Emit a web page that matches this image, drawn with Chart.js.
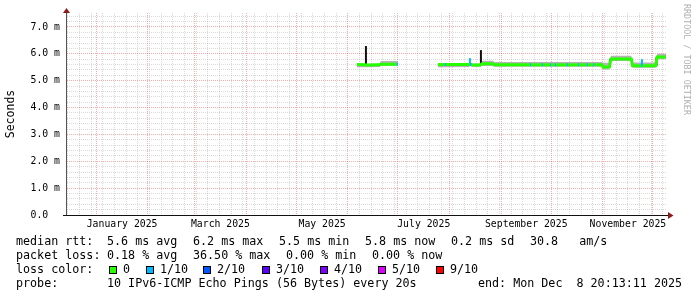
<!DOCTYPE html>
<html>
<head>
<meta charset="utf-8">
<script src="https://cdn.jsdelivr.net/npm/chart.js@4/dist/chart.umd.min.js"></script>
<style>
  html, body { margin: 0; padding: 0; background: #fff; }
  #wrap { position: relative; width: 697px; height: 297px; overflow: hidden; background: #fff; }
  #chart { position: absolute; left: 0; top: 0; }
  .t { position: absolute; font-family: 'DejaVu Sans Mono', monospace; font-size: 11.7px; line-height: 14px; white-space: pre; color: #000; }
  .sw { position: absolute; top: 266px; width: 6px; height: 6px; border: 1px solid #000; }
  #mark { position: absolute; left: 682px; top: 4px; writing-mode: vertical-rl; font-family: 'DejaVu Sans Mono', monospace;
          font-size: 8.4px; line-height: 10px; color: #b0b0b0; white-space: pre; }
</style>
</head>
<body>
<div id="wrap">
  <canvas id="chart" width="697" height="297"></canvas>
  <div id="mark">RRDTOOL / TOBI OETIKER</div>

  <div class="t" style="left:16px;top:234px">median rtt:</div>
  <div class="t" style="left:107px;top:234px">5.6 ms avg</div>
  <div class="t" style="left:193px;top:234px">6.2 ms max</div>
  <div class="t" style="left:279px;top:234px">5.5 ms min</div>
  <div class="t" style="left:365px;top:234px">5.8 ms now</div>
  <div class="t" style="left:451px;top:234px">0.2 ms sd</div>
  <div class="t" style="left:530px;top:234px">30.8   am/s</div>

  <div class="t" style="left:16px;top:248px">packet loss:</div>
  <div class="t" style="left:107px;top:248px">0.18 % avg</div>
  <div class="t" style="left:193px;top:248px">36.50 % max</div>
  <div class="t" style="left:286px;top:248px">0.00 % min</div>
  <div class="t" style="left:372px;top:248px">0.00 % now</div>

  <div class="t" style="left:16px;top:262px">loss color:</div>
  <div id="lossLegend"></div>

  <div class="t" style="left:16px;top:276px">probe:</div>
  <div class="t" style="left:107px;top:276px">10 IPv6-ICMP Echo Pings (56 Bytes) every 20s</div>
  <div class="t" style="left:478px;top:276px">end: Mon Dec  8 20:13:11 2025</div>
</div>
<script>
// time axis: days since 2025-01-01 00:00
const dayOf = (y, m, d) => (Date.UTC(y, m, d) - Date.UTC(2025, 0, 1)) / 86400000;
const endDay = dayOf(2025, 11, 8) + (20 + 13 / 60 + 11 / 3600) / 24;
const startDay = endDay - 360;

// median rtt (ms), smoke range (ms) and lost pings out of 10
const medianDays = [156.4, 161.4, 162.2, 170.0, 170.8, 180.2, 181.0, 193.0,
  205.0, 209.0, 209.8, 223.6, 224.4, 225.2, 230.4, 231.4, 238.0, 238.8,
  260.2, 261.0, 267.2, 268.0, 272.2, 273.0, 275.2, 276.0, 282.2, 283.0,
  289.2, 290.0, 294.2, 295.0, 298.2, 299.0, 303.4, 304.0, 307.8, 308.8,
  321.0, 321.8, 327.0, 327.8, 335.6, 336.6, 341.8];
const medianMs = [5.60, 5.59, 5.58, 5.59, 5.61, 5.61, 5.61, null,
  5.60, 5.60, 5.60, 5.60, 5.62, 5.58, 5.58, 5.63, 5.63, 5.59,
  5.59, 5.59, 5.59, 5.59, 5.59, 5.59, 5.59, 5.59, 5.59, 5.59,
  5.59, 5.59, 5.59, 5.59, 5.59, 5.59, 5.59, 5.51, 5.51, 5.81,
  5.81, 5.56, 5.56, 5.56, 5.56, 5.88, 5.88];
const smokeLoMs = [5.50, 5.50, 5.50, 5.51, 5.55, 5.56, 5.56, null,
  5.50, 5.50, 5.50, 5.51, 5.55, 5.52, 5.52, 5.55, 5.55, 5.52,
  5.52, 5.52, 5.52, 5.52, 5.52, 5.52, 5.52, 5.52, 5.52, 5.52,
  5.52, 5.52, 5.52, 5.52, 5.52, 5.52, 5.52, 5.42, 5.42, 5.73,
  5.73, 5.48, 5.48, 5.48, 5.48, 5.80, 5.80];
const smokeHiMs = [5.63, 5.63, 5.62, 5.64, 5.73, 5.73, 5.73, null,
  5.66, 5.66, 5.66, 5.66, 5.70, 5.64, 5.64, 5.74, 5.74, 5.70,
  5.70, 5.70, 5.70, 5.70, 5.70, 5.70, 5.70, 5.70, 5.70, 5.70,
  5.70, 5.70, 5.70, 5.70, 5.70, 5.70, 5.70, 5.67, 5.67, 5.93,
  5.93, 5.68, 5.68, 5.68, 5.68, 6.00, 6.00];
const lossTenths = [0, 0, 0, 0, 0, 1, 0, 0,
  0, 1, 0, 0, 1, 0, 0, 0, 0, 0,
  1, 0, 1, 0, 1, 0, 1, 0, 1, 0,
  1, 0, 1, 0, 1, 0, 0, 0, 0, 0,
  0, 0, 1, 0, 0, 0, 0];

// dark smoke spikes (ms)
const spikeDays = [161.8, 224.2, 230.8, 308.2, 321.4, 327.4, 336.1];
const spikeLoMs = [5.58, 5.56, 5.60, 5.50, 5.56, 5.56, 5.55];
const spikeHiMs = [6.29, 5.84, 6.14, 5.80, 5.80, 5.80, 5.86];
const spikeLoss = [0, 1, 0, 0, 0, 1, 0];

const lossSteps = [0, 1, 2, 3, 4, 5, 9];
const lossNames = ['0', '1/10', '2/10', '3/10', '4/10', '5/10', '9/10'];
const lossColors = { 0: '#26ff00', 1: '#00b8ff', 2: '#0059ff', 3: '#5e00ff', 4: '#7e00ff', 5: '#dd00ff', 9: '#ff0000' };

const xLabelMonths = [0, 2, 4, 6, 8, 10];
const xLabels = ['January 2025', 'March 2025', 'May 2025', 'July 2025', 'September 2025', 'November 2025'];
const yLabels = ['0.0  ', '1.0 m', '2.0 m', '3.0 m', '4.0 m', '5.0 m', '6.0 m', '7.0 m'];

// loss colour legend
const swX = [109, 146, 203, 262, 320, 378, 436];
const legend = document.getElementById('lossLegend');
lossSteps.forEach((s, i) => {
  const b = document.createElement('div');
  b.className = 'sw';
  b.style.left = swX[i] + 'px';
  b.style.background = lossColors[s];
  legend.appendChild(b);
  const t = document.createElement('div');
  t.className = 't';
  t.style.left = (swX[i] + 14) + 'px';
  t.style.top = '262px';
  t.textContent = lossNames[i];
  legend.appendChild(t);
});

// x ticks: weekly (sunday) minor lines, monthly major lines, mid-month labels
const xTicks = [];
for (let d = dayOf(2024, 11, 15); d <= endDay; d += 7) xTicks.push({ value: d, kind: 'week' });
for (let m = 0; m < 12; m++) {
  const v = dayOf(2025, m, 1);
  if (v < startDay || v > endDay) continue;
  const w = xTicks.find(t => Math.abs(t.value - v) < 1e-6);
  if (w) w.kind = 'month'; else xTicks.push({ value: v, kind: 'month' });
}
xLabelMonths.forEach((m, i) => {
  xTicks.push({ value: (dayOf(2025, m, 1) + dayOf(2025, m + 1, 1)) / 2, kind: 'label', text: xLabels[i] });
});
xTicks.sort((a, b) => a.value - b.value);

const yTicks = [];
for (let i = 0; i <= 37; i++) yTicks.push({ value: i / 5 });

const minorGrid = 'rgba(140,140,140,0.32)';
const majorGrid = 'rgba(230,0,0,0.32)';
const tickFont = { family: 'DejaVu Sans Mono', size: 9.8 };

const spikeData = [];
spikeDays.forEach((d, i) => {
  spikeData.push({ x: d, y: spikeLoMs[i] }, { x: d, y: spikeHiMs[i] }, { x: d + 0.01, y: null });
});

const arrows = {
  id: 'arrows',
  afterDraw(chart) {
    const { ctx, chartArea: a } = chart;
    ctx.save();
    ctx.fillStyle = '#8b1a1a';
    ctx.beginPath();
    ctx.moveTo(a.left + 0.5, a.top - 5);
    ctx.lineTo(a.left - 3, a.top);
    ctx.lineTo(a.left + 4, a.top);
    ctx.closePath();
    ctx.fill();
    ctx.beginPath();
    ctx.moveTo(a.right + 7.5, a.bottom + 0.5);
    ctx.lineTo(a.right + 2, a.bottom - 3);
    ctx.lineTo(a.right + 2, a.bottom + 4);
    ctx.closePath();
    ctx.fill();
    ctx.strokeStyle = '#111';
    ctx.lineWidth = 1;
    ctx.beginPath();
    ctx.moveTo(a.left - 3, a.bottom + 0.5);
    ctx.lineTo(a.right + 2, a.bottom + 0.5);
    ctx.stroke();
    ctx.restore();
  }
};

new Chart(document.getElementById('chart'), {
  type: 'line',
  data: {
    datasets: [
      {
        label: 'median rtt',
        data: medianDays.map((d, i) => ({ x: d, y: medianMs[i] })),
        borderColor: lossColors[0],
        borderWidth: 3,
        borderCapStyle: 'butt',
        spanGaps: false,
        order: 0,
        segment: { borderColor: c => lossColors[lossTenths[c.p0DataIndex]] }
      },
      {
        label: 'dark smoke',
        data: spikeData,
        borderColor: '#111',
        borderWidth: 2,
        spanGaps: false,
        order: 1,
        segment: { borderColor: c => { const l = spikeLoss[Math.floor(c.p0DataIndex / 3)]; return l ? lossColors[l] : '#111'; } }
      },
      {
        label: 'smoke low',
        data: medianDays.map((d, i) => ({ x: d, y: smokeLoMs[i] })),
        borderWidth: 0,
        borderColor: 'rgba(0,0,0,0)',
        fill: false,
        spanGaps: false,
        order: 2
      },
      {
        label: 'smoke high',
        data: medianDays.map((d, i) => ({ x: d, y: smokeHiMs[i] })),
        borderWidth: 0,
        borderColor: 'rgba(0,0,0,0)',
        backgroundColor: '#b4b4b4',
        fill: '-1',
        spanGaps: false,
        order: 2
      }
    ]
  },
  options: {
    responsive: false,
    animation: false,
    devicePixelRatio: 1,
    layout: { padding: { top: 13, right: 31, bottom: 0, left: 0 } },
    elements: { point: { radius: 0 }, line: { tension: 0 } },
    plugins: { legend: { display: false }, tooltip: { enabled: false } },
    scales: {
      x: {
        type: 'linear',
        min: startDay,
        max: endDay,
        bounds: 'data',
        offset: false,
        afterBuildTicks: s => { s.ticks = xTicks; },
        afterFit: s => { s.height = 82; },
        grid: {
          drawTicks: false,
          lineWidth: 1,
          offset: false,
          color: c => c.tick && c.tick.kind === 'month' ? majorGrid : (c.tick && c.tick.kind === 'week' ? minorGrid : 'rgba(0,0,0,0)')
        },
        border: { display: true, color: '#111', width: 1, dash: [1, 1] },
        ticks: {
          autoSkip: false, maxRotation: 0, minRotation: 0, padding: 4,
          font: tickFont, color: '#000',
          callback: (v, i, t) => t[i].text || ''
        }
      },
      y: {
        type: 'linear',
        min: 0,
        max: 7.52,
        bounds: 'data',
        afterBuildTicks: s => { s.ticks = yTicks; },
        afterFit: s => { s.width = 66; },
        grid: {
          drawTicks: false,
          lineWidth: 1,
          color: c => c.tick && Math.abs(c.tick.value - Math.round(c.tick.value)) < 1e-6 ? majorGrid : minorGrid
        },
        border: { display: true, color: '#555', width: 1, dash: [1, 1] },
        title: {
          display: true, text: 'Seconds', color: '#000',
          font: { family: 'DejaVu Sans Mono', size: 11.5 },
          padding: { top: 4, bottom: 0 }
        },
        ticks: {
          autoSkip: false, padding: 6, font: tickFont, color: '#000',
          callback: v => Math.abs(v - Math.round(v)) < 1e-6 ? yLabels[Math.round(v)] : ''
        }
      }
    }
  },
  plugins: [arrows]
});
</script>
</body>
</html>
